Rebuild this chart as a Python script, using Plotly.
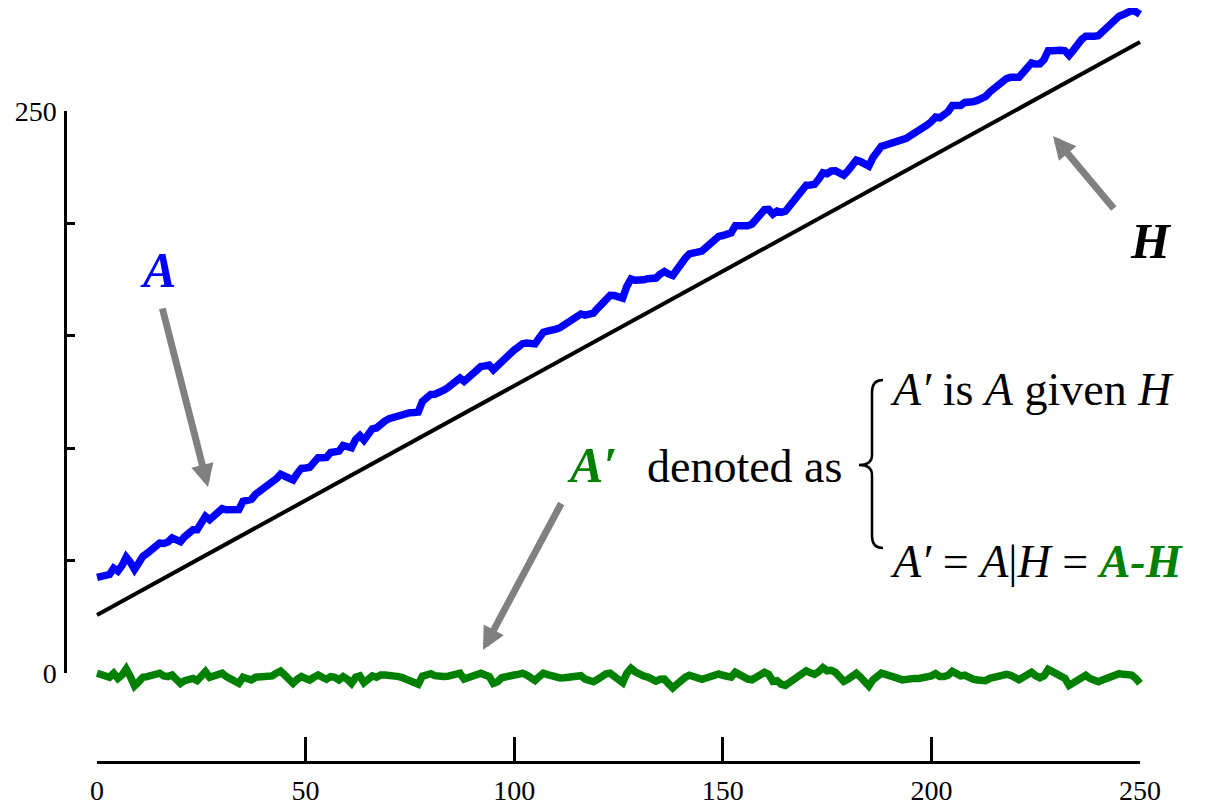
import plotly.graph_objects as go

# ---------------- data ----------------
x_vals = list(range(251))

h_x = [0, 250]
h_y = [25.8, 280.7]

a_vals = [
    42.5, 43.0, 43.4, 43.8, 46.6, 45.3, 47.8, 51.5, 49.2, 46.1,
    48.9, 51.9, 53.2, 54.6, 56.0, 57.8, 57.6, 58.3, 60.1, 59.6,
    58.4, 60.6, 62.2, 63.7, 63.7, 66.5, 69.7, 68.2, 69.9, 71.3,
    73.1, 72.6, 72.4, 72.4, 72.7, 76.4, 76.9, 77.2, 79.5, 80.8,
    81.8, 82.8, 84.1, 86.4, 88.4, 87.6, 87.1, 85.9, 88.8, 91.0,
    91.2, 91.5, 93.7, 95.8, 95.8, 95.9, 98.1, 98.8, 98.7, 101.2,
    101.0, 100.2, 103.9, 105.6, 103.6, 106.5, 108.6, 109.0, 111.1, 112.1,
    113.1, 113.8, 114.5, 115.2, 115.6, 115.8, 115.9, 116.1, 120.8, 122.8,
    123.9, 124.0, 124.6, 125.7, 126.8, 128.3, 129.7, 131.2, 129.7, 131.5,
    133.2, 134.8, 136.3, 136.6, 137.0, 134.9, 136.6, 139.4, 141.1, 142.4,
    143.7, 145.0, 146.5, 146.8, 146.8, 146.4, 149.1, 151.6, 152.1, 152.3,
    153.0, 153.6, 154.7, 156.1, 157.4, 158.9, 159.7, 159.2, 159.4, 160.1,
    162.2, 164.5, 166.6, 168.0, 167.9, 167.7, 166.8, 172.0, 175.3, 174.7,
    174.6, 174.9, 175.4, 175.8, 175.7, 177.5, 178.6, 177.5, 176.8, 179.4,
    182.4, 184.5, 186.4, 186.9, 186.7, 187.7, 189.3, 190.9, 193.0, 194.2,
    194.6, 194.8, 195.8, 199.0, 199.0, 198.3, 199.0, 199.7, 201.7, 203.8,
    206.1, 206.2, 204.1, 205.5, 204.9, 205.4, 207.9, 210.2, 212.8, 215.5,
    217.0, 217.1, 217.4, 219.7, 222.5, 222.1, 223.3, 223.4, 222.6, 221.5,
    223.4, 225.7, 228.1, 227.5, 226.3, 225.5, 229.3, 232.1, 234.3, 234.8,
    235.4, 235.9, 236.0, 236.4, 237.8, 239.1, 240.1, 241.1, 242.5, 243.8,
    245.3, 247.3, 247.0, 248.1, 249.7, 252.4, 252.1, 252.4, 253.8, 253.7,
    254.1, 254.7, 255.2, 256.5, 258.5, 260.0, 261.6, 263.6, 264.4, 265.0,
    264.8, 265.0, 267.1, 269.4, 271.4, 270.9, 271.0, 272.9, 276.8, 276.8,
    276.5, 277.0, 276.8, 274.8, 277.0, 279.6, 281.8, 283.3, 283.0, 283.3,
    283.5, 285.3, 287.0, 288.7, 290.5, 292.2, 292.9, 293.6, 294.7, 294.2,
    293.0,
]

a_prime_vals = [
    -0.1, -0.6, -1.2, -1.9, -0.1, -2.4, -0.9, 1.8, -1.6, -5.7,
    -3.9, -1.9, -1.6, -1.3, -0.9, -0.1, -1.3, -1.6, -0.9, -2.4,
    -4.6, -3.4, -2.8, -2.4, -3.4, -1.6, 0.6, -1.9, -1.3, -0.9,
    -0.1, -1.6, -2.8, -3.9, -4.6, -1.9, -2.4, -3.1, -1.9, -1.6,
    -1.6, -1.6, -1.3, -0.1, 0.9, -0.9, -2.4, -4.6, -2.8, -1.6,
    -2.4, -3.1, -1.9, -0.9, -1.9, -2.8, -1.6, -1.9, -3.1, -1.6,
    -2.8, -4.6, -1.9, -1.3, -4.3, -2.4, -1.3, -1.9, -0.9, -0.9,
    -0.9, -1.2, -1.5, -1.9, -2.5, -3.3, -4.2, -5.0, -1.4, -0.4,
    -0.3, -1.2, -1.6, -1.6, -1.5, -1.0, -0.6, -0.1, -2.7, -1.9,
    -1.2, -0.6, -0.1, -0.9, -1.5, -4.6, -3.9, -2.1, -1.5, -1.2,
    -0.9, -0.6, -0.1, -0.9, -1.9, -3.3, -1.6, -0.1, -0.7, -1.5,
    -1.8, -2.2, -2.1, -1.8, -1.5, -1.0, -1.2, -2.7, -3.6, -3.9,
    -2.8, -1.5, -0.4, -0.1, -1.2, -2.4, -4.3, -0.1, 2.1, 0.5,
    -0.6, -1.3, -1.8, -2.5, -3.6, -2.8, -2.7, -4.8, -6.6, -5.0,
    -3.0, -1.9, -1.0, -1.6, -2.8, -2.8, -2.2, -1.6, -0.6, -0.4,
    -1.0, -1.8, -1.8, 0.3, -0.7, -2.4, -2.7, -3.0, -2.1, -1.0,
    0.3, -0.6, -3.7, -3.4, -5.0, -5.5, -4.0, -2.7, -1.2, 0.5,
    1.0, 0.1, -0.6, 0.6, 2.4, 1.0, 1.2, 0.3, -1.6, -3.7,
    -2.8, -1.5, -0.1, -1.8, -4.0, -5.8, -3.0, -1.2, -0.1, -0.6,
    -1.0, -1.5, -2.4, -3.1, -2.7, -2.4, -2.4, -2.4, -2.1, -1.8,
    -1.3, -0.3, -1.6, -1.6, -1.0, 0.7, -0.6, -1.3, -1.0, -2.1,
    -2.7, -3.1, -3.6, -3.4, -2.4, -1.9, -1.3, -0.3, -0.6, -1.0,
    -2.2, -3.0, -1.9, -0.7, 0.3, -1.2, -2.1, -1.2, 1.6, 0.6,
    -0.7, -1.2, -2.4, -5.5, -4.3, -2.7, -1.5, -1.0, -2.4, -3.1,
    -3.9, -3.1, -2.4, -1.8, -1.0, -0.3, -0.6, -0.9, -0.9, -2.4,
    -4.6,
]

x_ticks = [0, 50, 100, 150, 200, 250]
y_ticks = [0, 50, 100, 150, 200, 250]
y_ticktext = ["0", "", "", "", "", "250"]

# ---------------- layout geometry (page pixels) ----------------
W, HGT = 1205, 807
OFF = 8                      # page body margin that shifts the figure
X0PX, X250PX = 97, 1140      # page columns of x = 0 and x = 250
Y0PX, Y250PX = 673, 111      # page rows of y = 0 and y = 250
XAXIS_ROW = 762              # page row of the drawn x-axis line
YAXIS_COL = 65               # page column of the drawn y-axis line

xs = (X250PX - X0PX) / 250.0
ys = (Y0PX - Y250PX) / 250.0


def pxx(p):
    return (p - OFF) / W


def pxy(p):
    return 1 - (p - OFF) / HGT


SERIF = "Liberation Serif, Times New Roman, serif"

fig = go.Figure()

fig.add_trace(go.Scatter(x=h_x, y=h_y, mode="lines",
                         line=dict(color="black", width=4),
                         hoverinfo="skip", showlegend=False))
fig.add_trace(go.Scatter(x=x_vals, y=a_vals, mode="lines",
                         line=dict(color="#0000FF", width=7.5),
                         hoverinfo="skip", showlegend=False))
fig.add_trace(go.Scatter(x=x_vals, y=a_prime_vals, mode="lines",
                         line=dict(color="#008000", width=7.5),
                         hoverinfo="skip", showlegend=False))
# invisible trace to instantiate the decorative axes
fig.add_trace(go.Scatter(x=[0], y=[0], xaxis="x2", yaxis="y2", mode="markers",
                         marker=dict(opacity=0), hoverinfo="skip",
                         showlegend=False))

fig.update_layout(
    width=W, height=HGT,
    margin=dict(l=0, r=0, t=0, b=0, pad=0, autoexpand=False),
    paper_bgcolor="white",
    plot_bgcolor="rgba(0,0,0,0)",
    showlegend=False,
    font=dict(family=SERIF, color="black"),
    xaxis=dict(domain=[0, 1],
               range=[(OFF - X0PX) / xs, (OFF + W - X0PX) / xs],
               visible=False, fixedrange=True, automargin=False),
    yaxis=dict(domain=[0, 1],
               range=[(Y0PX - OFF - HGT) / ys, (Y0PX - OFF) / ys],
               visible=False, fixedrange=True, automargin=False),
    xaxis2=dict(domain=[pxx(X0PX), pxx(X250PX)], range=[0, 250],
                anchor="free", position=pxy(XAXIS_ROW), side="bottom",
                showline=True, linecolor="black", linewidth=2.5,
                ticks="inside", ticklen=24, tickwidth=2.5, tickcolor="black",
                tickmode="array", tickvals=x_ticks,
                ticktext=[str(v) for v in x_ticks],
                tickfont=dict(family=SERIF, size=28, color="black"),
                ticklabelstandoff=3, automargin=False,
                showgrid=False, zeroline=False, fixedrange=True),
    yaxis2=dict(domain=[pxy(Y0PX), pxy(Y250PX)], range=[0, 250],
                anchor="free", position=pxx(YAXIS_COL), side="left",
                showline=True, linecolor="black", linewidth=2.5,
                ticks="inside", ticklen=8, tickwidth=2.5, tickcolor="black",
                tickmode="array", tickvals=y_ticks, ticktext=y_ticktext,
                tickfont=dict(family=SERIF, size=28, color="black"),
                ticklabelstandoff=2, automargin=False,
                showgrid=False, zeroline=False, fixedrange=True),
)

annotations = []


def label(text, cx, cy, size, color="black", xanchor="center"):
    annotations.append(dict(
        text=text, x=pxx(cx), y=pxy(cy), xref="paper", yref="paper",
        xanchor=xanchor, yanchor="middle", showarrow=False,
        font=dict(family=SERIF, size=size, color=color)))


def arrow(tip, tail):
    annotations.append(dict(
        text="", x=pxx(tip[0]), y=pxy(tip[1]), xref="paper", yref="paper",
        ax=tail[0] - tip[0], ay=tail[1] - tip[1], showarrow=True,
        arrowhead=2, arrowsize=0.65, arrowwidth=7, arrowcolor="#808080",
        standoff=0, startstandoff=0))


label("<b><i>A</i></b>", 158, 270, 50, "#0000FF")
label("<b><i>H</i></b>", 1151, 241, 50, "black")
label("<b><i>A\u2032</i></b>", 592, 465, 50, "#008000")
label("denoted as", 744, 466, 46, "black")
label("<i>A\u2032</i> is <i>A</i> given <i>H</i>", 888, 389, 46, "black",
      xanchor="left")
label("<i>A\u2032</i> = <i>A</i>|<i>H</i> = "
      "<span style='color:#008000'><b><i>A-H</i></b></span>",
      888, 561, 46, "black", xanchor="left")

arrow((208, 487), (162, 307))
arrow((1053, 136), (1115, 210))
arrow((483, 650), (562, 502))

fig.update_layout(annotations=annotations)

# curly brace
pts = [(883, 380), (872, 380), (872, 392), (872, 455), (872, 465), (859, 465),
       (872, 465), (872, 475), (872, 536), (872, 548), (883, 548)]
P = [(pxx(a), pxy(b)) for a, b in pts]
path = (f"M {P[0][0]},{P[0][1]} Q {P[1][0]},{P[1][1]} {P[2][0]},{P[2][1]} "
        f"L {P[3][0]},{P[3][1]} Q {P[4][0]},{P[4][1]} {P[5][0]},{P[5][1]} "
        f"Q {P[6][0]},{P[6][1]} {P[7][0]},{P[7][1]} "
        f"L {P[8][0]},{P[8][1]} Q {P[9][0]},{P[9][1]} {P[10][0]},{P[10][1]}")
fig.add_shape(type="path", path=path, xref="paper", yref="paper",
              line=dict(color="black", width=2.5))

fig.write_html("out.html")
